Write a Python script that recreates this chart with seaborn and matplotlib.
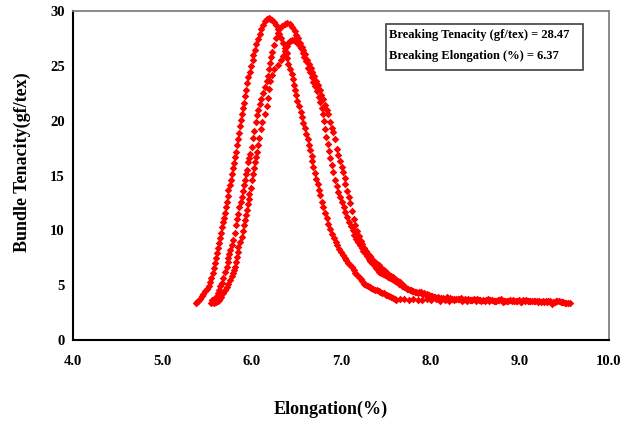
import pandas as pd
import seaborn as sns
import matplotlib
matplotlib.use("Agg")
import matplotlib.pyplot as plt
from matplotlib.patches import Rectangle

# --- Specimen 1 -------------------------------------------------------------
a_rise_x = [5.38, 5.39, 5.40, 5.42, 5.44, 5.46, 5.48, 5.50, 5.52, 5.53,
            5.55, 5.57, 5.58, 5.59, 5.60, 5.61, 5.62, 5.63, 5.65, 5.66,
            5.67, 5.68, 5.69, 5.70, 5.71, 5.72, 5.73, 5.74, 5.76, 5.77,
            5.78, 5.79, 5.80, 5.81, 5.83, 5.84, 5.85, 5.86, 5.87, 5.88,
            5.89, 5.90, 5.91, 5.93, 5.94, 5.95, 5.96, 5.98, 5.99, 6.01,
            6.02, 6.04, 6.05, 6.07, 6.09, 6.11, 6.13, 6.15, 6.17, 6.19, 6.21]
a_rise_y = [3.35, 3.48, 3.60, 3.78, 3.98, 4.20, 4.45, 4.70, 4.95, 5.25,
            5.65, 6.10, 6.55, 7.00, 7.45, 7.90, 8.35, 8.85, 9.30, 9.80,
            10.30, 10.75, 11.15, 11.60, 12.10, 12.60, 13.10, 13.65, 14.15, 14.60,
            15.15, 15.65, 16.15, 16.65, 17.15, 17.75, 18.30, 18.90, 19.50, 20.05,
            20.60, 21.15, 21.65, 22.25, 22.80, 23.40, 23.95, 24.45, 24.95, 25.50,
            26.00, 26.45, 26.95, 27.45, 27.90, 28.35, 28.75, 29.05, 29.25, 29.35, 29.30]
a_fall_x = [6.23, 6.25, 6.27, 6.29, 6.31, 6.33, 6.35, 6.37, 6.39, 6.40,
            6.41, 6.43, 6.45, 6.46, 6.47, 6.48, 6.50, 6.51, 6.53, 6.55,
            6.56, 6.58, 6.60, 6.61, 6.63, 6.64, 6.65, 6.67, 6.68, 6.69,
            6.71, 6.72, 6.74, 6.75, 6.77, 6.79, 6.80, 6.82, 6.84, 6.86,
            6.88, 6.90, 6.92, 6.94, 6.96, 6.98, 7.00, 7.02, 7.04, 7.06,
            7.08, 7.10, 7.12, 7.14, 7.16, 7.18, 7.20, 7.22, 7.24, 7.26,
            7.28, 7.30, 7.32, 7.34, 7.36, 7.38, 7.40, 7.42, 7.44, 7.46,
            7.48, 7.50, 7.52, 7.54, 7.56, 7.58, 7.60, 7.62]
a_fall_y = [29.20, 29.00, 28.70, 28.35, 27.95, 27.50, 27.05, 26.60, 26.20, 25.70,
            25.20, 24.75, 24.30, 23.80, 23.30, 22.80, 22.30, 21.80, 21.30, 20.80,
            20.30, 19.80, 19.30, 18.80, 18.30, 17.80, 17.30, 16.80, 16.30, 15.80,
            15.20, 14.70, 14.20, 13.70, 13.20, 12.60, 12.10, 11.60, 11.10, 10.60,
            10.10, 9.70, 9.30, 8.95, 8.65, 8.30, 8.00, 7.75, 7.50, 7.30,
            7.05, 6.85, 6.65, 6.40, 6.15, 5.95, 5.75, 5.55, 5.35, 5.15,
            5.00, 4.90, 4.85, 4.75, 4.70, 4.60, 4.55, 4.45, 4.35, 4.30,
            4.25, 4.15, 4.10, 4.05, 3.95, 3.80, 3.70, 3.65]
a_tail_x = [7.66, 7.71, 7.76, 7.81, 7.86, 7.91, 7.96, 8.01, 8.06, 8.11,
            8.16, 8.21, 8.26, 8.31, 8.36, 8.41, 8.46, 8.51, 8.56, 8.61,
            8.66, 8.71, 8.76, 8.81, 8.86, 8.91, 8.96, 9.01, 9.06, 9.11,
            9.16, 9.21, 9.26, 9.31, 9.36, 9.41, 9.46, 9.51, 9.56]
a_tail_y = [3.70, 3.72, 3.66, 3.75, 3.68, 3.62, 3.70, 3.64, 3.72, 3.60,
            3.66, 3.58, 3.65, 3.70, 3.60, 3.55, 3.63, 3.58, 3.66, 3.52,
            3.60, 3.56, 3.62, 3.50, 3.58, 3.54, 3.60, 3.48, 3.56, 3.52,
            3.58, 3.46, 3.54, 3.50, 3.25, 3.52, 3.46, 3.42, 3.36]

# --- Specimen 2 -------------------------------------------------------------
b_rise_x = [5.55, 5.57, 5.56, 5.58, 5.60, 5.61, 5.62, 5.64, 5.65, 5.67,
            5.68, 5.70, 5.72, 5.73, 5.735, 5.75, 5.76, 5.78, 5.79, 5.81,
            5.83, 5.84, 5.85, 5.86, 5.88, 5.89, 5.90, 5.91, 5.925, 5.94,
            5.95, 5.96, 5.97, 5.98, 6.00, 6.015, 6.03, 6.045, 6.06, 6.07,
            6.09, 6.11, 6.13, 6.15, 6.17, 6.18, 6.19, 6.21, 6.22, 6.23,
            6.25, 6.27, 6.29, 6.31, 6.34, 6.37, 6.40]
b_rise_y = [3.40, 3.52, 3.62, 3.70, 3.85, 4.05, 4.30, 4.60, 4.90, 5.20,
            5.70, 6.20, 6.65, 7.10, 7.50, 7.85, 8.25, 8.70, 9.10, 9.75,
            10.45, 11.00, 11.50, 12.10, 12.60, 13.05, 13.60, 14.10, 14.60, 15.10,
            15.55, 16.20, 16.60, 17.00, 17.60, 18.40, 19.10, 19.90, 20.50, 21.00,
            21.50, 22.00, 22.50, 23.10, 23.60, 24.10, 24.70, 25.30, 25.80, 26.30,
            26.90, 27.50, 28.00, 28.35, 28.65, 28.85, 28.90]
b_fall_x = [6.43, 6.45, 6.48, 6.50, 6.52, 6.54, 6.56, 6.58, 6.60, 6.62,
            6.64, 6.66, 6.68, 6.70, 6.72, 6.74, 6.76, 6.78, 6.80, 6.82,
            6.84, 6.86, 6.88, 6.90, 6.91, 6.93, 6.95, 6.97, 6.99, 7.01,
            7.02, 7.04, 7.05, 7.07, 7.09, 7.10, 7.12, 7.14, 7.16, 7.18,
            7.20, 7.22, 7.24, 7.26, 7.28, 7.30, 7.32, 7.34, 7.36, 7.38,
            7.40, 7.42, 7.44, 7.46, 7.48, 7.50, 7.52, 7.54, 7.56, 7.58,
            7.60, 7.62, 7.64, 7.66, 7.69, 7.72, 7.75, 7.78, 7.81, 7.84,
            7.87, 7.90, 7.93, 7.96, 7.99, 8.02, 8.05]
b_fall_y = [28.80, 28.55, 28.15, 27.85, 27.50, 27.05, 26.75, 26.45, 26.05, 25.55,
            25.15, 24.80, 24.40, 24.05, 23.65, 23.25, 22.80, 22.35, 21.95, 21.45,
            21.00, 20.60, 19.90, 19.30, 18.95, 18.30, 17.40, 16.85, 16.30, 15.75,
            15.30, 14.80, 14.25, 13.55, 13.00, 12.50, 11.75, 11.00, 10.45, 9.95,
            9.45, 9.05, 8.75, 8.40, 8.10, 7.85, 7.65, 7.45, 7.25, 7.10,
            6.95, 6.80, 6.65, 6.45, 6.35, 6.25, 6.10, 5.95, 5.85, 5.75,
            5.60, 5.45, 5.35, 5.25, 5.05, 4.85, 4.70, 4.55, 4.45, 4.40,
            4.38, 4.35, 4.30, 4.22, 4.12, 4.02, 3.95]
b_tail_x = [8.09, 8.14, 8.19, 8.24, 8.29, 8.34, 8.39, 8.44, 8.49, 8.54,
            8.59, 8.64, 8.69, 8.74, 8.79, 8.84, 8.89, 8.94, 8.99, 9.04,
            9.09, 9.14, 9.19, 9.24, 9.29, 9.34, 9.39, 9.44, 9.49, 9.54]
b_tail_y = [3.88, 3.82, 3.90, 3.78, 3.74, 3.82, 3.70, 3.66, 3.76, 3.68,
            3.62, 3.72, 3.64, 3.60, 3.70, 3.58, 3.64, 3.56, 3.62, 3.68,
            3.54, 3.60, 3.56, 3.50, 3.60, 3.52, 3.48, 3.55, 3.44, 3.40]

# --- Specimen 3 -------------------------------------------------------------
c_rise_x = [5.58, 5.60, 5.62, 5.63, 5.65, 5.66, 5.68, 5.70, 5.72, 5.74,
            5.76, 5.78, 5.79, 5.80, 5.815, 5.825, 5.835, 5.845, 5.85, 5.875,
            5.89, 5.90, 5.915, 5.925, 5.94, 5.95, 5.955, 5.965, 5.975, 5.99,
            6.005, 6.015, 6.03, 6.04, 6.05, 6.06, 6.07, 6.08, 6.10, 6.12,
            6.145, 6.17, 6.18, 6.19, 6.205, 6.225, 6.245, 6.29, 6.33, 6.35,
            6.37, 6.39, 6.41, 6.43, 6.45, 6.47]
c_rise_y = [3.38, 3.50, 3.58, 3.66, 3.80, 3.95, 4.25, 4.55, 4.85, 5.15,
            5.45, 5.80, 6.10, 6.40, 6.70, 7.10, 7.55, 8.05, 8.50, 8.95,
            9.40, 9.95, 10.45, 10.95, 11.40, 11.90, 12.40, 12.85, 13.35, 13.90,
            14.55, 15.10, 15.70, 16.20, 16.65, 17.15, 17.80, 18.40, 19.20, 19.90,
            20.60, 21.30, 22.10, 22.90, 23.60, 24.20, 24.70, 25.10, 25.50, 25.90,
            26.40, 26.80, 27.10, 27.30, 27.40, 27.40]
c_fall_x = [6.49, 6.51, 6.53, 6.55, 6.57, 6.59, 6.61, 6.63, 6.65, 6.67,
            6.69, 6.71, 6.73, 6.75, 6.77, 6.785, 6.795, 6.805, 6.82, 6.835,
            6.85, 6.865, 6.88, 6.895, 6.91, 6.93, 6.95, 6.97, 6.99, 7.01,
            7.03, 7.05, 7.07, 7.09, 7.11, 7.13, 7.15, 7.17, 7.19, 7.21,
            7.23, 7.25, 7.27, 7.29, 7.31, 7.33, 7.35, 7.37, 7.39, 7.41,
            7.43, 7.45, 7.47, 7.49, 7.51, 7.53, 7.55, 7.57, 7.59, 7.61,
            7.63, 7.65, 7.68, 7.71, 7.74, 7.77, 7.80, 7.83, 7.86, 7.89,
            7.92, 7.95, 7.98, 8.01, 8.04, 8.07]
c_fall_y = [27.30, 27.15, 26.90, 26.60, 26.15, 25.80, 25.40, 24.85, 24.40, 24.00,
            23.55, 23.15, 22.70, 22.20, 21.70, 21.20, 20.60, 19.95, 19.20, 18.50,
            17.90, 17.20, 16.60, 15.95, 15.30, 14.60, 14.05, 13.50, 13.00, 12.55,
            12.10, 11.65, 11.20, 10.80, 10.40, 10.00, 9.60, 9.20, 8.95, 8.70,
            8.40, 8.15, 7.90, 7.65, 7.40, 7.20, 7.00, 6.80, 6.60, 6.40,
            6.25, 6.15, 6.05, 5.95, 5.85, 5.75, 5.65, 5.55, 5.45, 5.38,
            5.30, 5.15, 4.95, 4.80, 4.65, 4.55, 4.45, 4.38, 4.30, 4.25,
            4.18, 4.12, 4.05, 3.98, 3.92, 3.86]
c_tail_x = [8.12, 8.17, 8.22, 8.27, 8.32, 8.37, 8.42, 8.47, 8.52, 8.57,
            8.62, 8.67, 8.72, 8.77, 8.82, 8.87, 8.92, 8.97, 9.02, 9.07,
            9.12, 9.17, 9.22, 9.27, 9.32, 9.37, 9.42, 9.47, 9.52]
c_tail_y = [3.80, 3.74, 3.84, 3.70, 3.78, 3.66, 3.72, 3.62, 3.70, 3.58,
            3.66, 3.62, 3.56, 3.68, 3.60, 3.54, 3.62, 3.58, 3.50, 3.64,
            3.56, 3.52, 3.60, 3.48, 3.56, 3.44, 3.52, 3.46, 3.38]

x_ticks = [4.0, 5.0, 6.0, 7.0, 8.0, 9.0, 10.0]
y_ticks = [0, 5, 10, 15, 20, 25, 30]
summary_lines = ["Breaking Tenacity (gf/tex) = 28.47",
                 "Breaking Elongation (%) = 6.37"]

runs = {
    "1": (a_rise_x + a_fall_x + a_tail_x, a_rise_y + a_fall_y + a_tail_y),
    "2": (b_rise_x + b_fall_x + b_tail_x, b_rise_y + b_fall_y + b_tail_y),
    "3": (c_rise_x + c_fall_x + c_tail_x, c_rise_y + c_fall_y + c_tail_y),
}
df = pd.concat(
    [pd.DataFrame({"elong": xs, "ten": ys, "run": k}) for k, (xs, ys) in runs.items()],
    ignore_index=True,
)

sns.set_theme(style="white")
plt.rcParams["font.family"] = ["Liberation Serif", "DejaVu Serif"]
plt.rcParams["font.weight"] = "bold"

fig = plt.figure(figsize=(6.33, 4.24), dpi=100)
ax = fig.add_axes([0.1153, 0.198, 0.8468, 0.776])

sns.scatterplot(data=df, x="elong", y="ten", marker="D", s=15, color="#ff0000",
                linewidth=0, legend=False, ax=ax)

ax.set_xlim(4, 10)
ax.set_ylim(0, 30)
ax.set_xticks(x_ticks)
ax.set_xticklabels([f"{v:.1f}" for v in x_ticks])
ax.set_yticks(y_ticks)
ax.set_yticklabels([str(v) for v in y_ticks])

for side in ("left", "bottom"):
    ax.spines[side].set_color("black")
    ax.spines[side].set_linewidth(1.5)
for side in ("top", "right"):
    ax.spines[side].set_color("#808080")
    ax.spines[side].set_linewidth(1.3)
    ax.spines[side].set_visible(True)

ax.tick_params(axis="both", direction="in", length=4, width=1, color="black",
               labelsize=10.5, labelcolor="black")
ax.tick_params(axis="x", pad=11)
ax.tick_params(axis="y", pad=6)
for lab in ax.get_xticklabels() + ax.get_yticklabels():
    lab.set_fontweight("bold")

ax.set_xlabel("Elongation(%)", fontsize=13, fontweight="bold", color="black")
ax.set_ylabel("Bundle Tenacity(gf/tex)", fontsize=13, fontweight="bold", color="black")
ax.xaxis.set_label_coords(0.481, -0.185)
ax.yaxis.set_label_coords(-0.078, 0.54)

ax.add_patch(Rectangle((0.584, 0.821), 0.367, 0.139, transform=ax.transAxes,
                       facecolor="white", edgecolor="#404040", linewidth=1.2, zorder=5))
ax.text(0.590, 0.927, summary_lines[0], transform=ax.transAxes, fontsize=9,
        fontweight="bold", va="center", ha="left", zorder=6, color="black")
ax.text(0.590, 0.863, summary_lines[1], transform=ax.transAxes, fontsize=9,
        fontweight="bold", va="center", ha="left", zorder=6, color="black")

fig.savefig("out.png", dpi=100, facecolor="white")
